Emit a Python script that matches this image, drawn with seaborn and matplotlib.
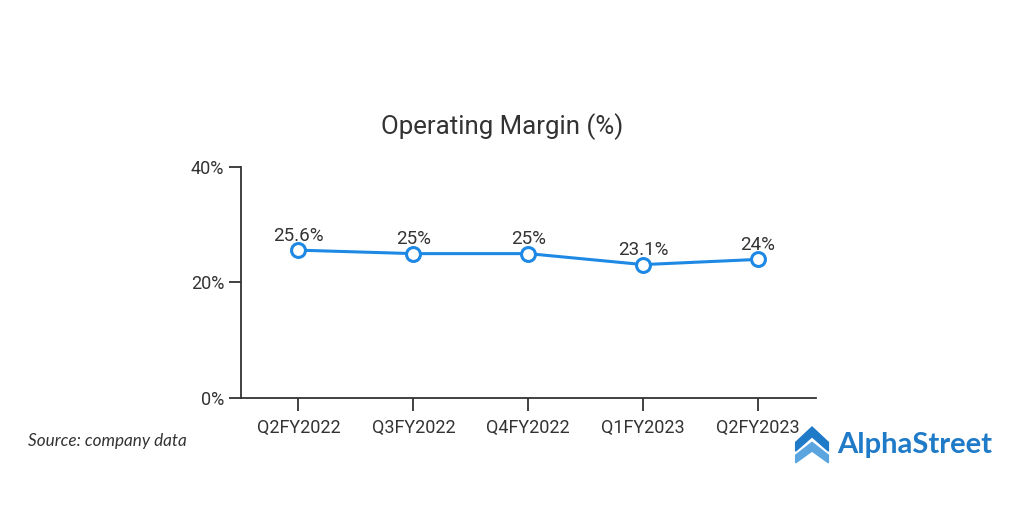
import matplotlib
matplotlib.use("Agg")
import matplotlib.pyplot as plt
import seaborn as sns
import pandas as pd
from matplotlib.patches import Polygon

# Data
quarters = ["Q2FY2022", "Q3FY2022", "Q4FY2022", "Q1FY2023", "Q2FY2023"]
margin = [25.6, 25, 25, 23.1, 24]
labels = ["25.6%", "25%", "25%", "23.1%", "24%"]
yticks = [0, 20, 40]

df = pd.DataFrame({"quarter": quarters, "margin": margin})

sns.set_style("white")
plt.rcParams["font.family"] = ["Roboto", "DejaVu Sans"]

fig = plt.figure(figsize=(10.24, 5.12), dpi=100)
ax = fig.add_axes([0.2354, 0.2227, 0.5610, 0.4511])

line_color = "#1e88e5"
sns.lineplot(data=df, x="quarter", y="margin", ax=ax, color=line_color,
             linewidth=2.2, marker="o", markersize=10,
             markerfacecolor="white", markeredgecolor=line_color,
             markeredgewidth=2.2, sort=False)

for i, (v, lab) in enumerate(zip(margin, labels)):
    ax.annotate(lab, (i, v), xytext=(0, 4), textcoords="offset points",
                ha="center", va="bottom", fontsize=13.5, color="#333333")

ax.set_xlim(-0.5, len(quarters) - 0.5)
ax.set_ylim(0, 40)
ax.set_yticks(yticks)
ax.set_yticklabels([f"{t}%" for t in yticks])
ax.set_xlabel("")
ax.set_ylabel("")
sns.despine(ax=ax)
for s in ["left", "bottom"]:
    ax.spines[s].set_color("#333333")
    ax.spines[s].set_linewidth(1.3)
ax.tick_params(axis="both", left=True, bottom=True, direction="out",
               length=9, width=1.3, color="#333333",
               labelsize=13, labelcolor="#333333")
ax.tick_params(axis="x", pad=6)
ax.tick_params(axis="y", pad=3)

fig.text(0.490, 0.752, "Operating Margin (%)", ha="center", va="center",
         fontsize=18.6, color="#333333")

fig.text(0.027, 0.138, "Source: company data", ha="left", va="center",
         fontsize=12.3, style="italic", color="#333333",
         family=["Lato", "DejaVu Sans"])

# logo
logo_blue = "#1f7ac8"
fig.text(0.818, 0.131, "AlphaStreet", ha="left", va="center", fontsize=21,
         fontweight="bold", color=logo_blue, family=["Lato", "DejaVu Sans"])
cx, cy, w = 0.793, 0.131, 0.016
top = Polygon([[cx - w, cy + 0.005], [cx, cy + 0.035], [cx + w, cy + 0.005],
               [cx + w, cy - 0.012], [cx, cy + 0.016], [cx - w, cy - 0.012]],
              closed=True, transform=fig.transFigure, color=logo_blue)
bot = Polygon([[cx - w, cy - 0.020], [cx, cy + 0.005], [cx + w, cy - 0.020],
               [cx + w, cy - 0.035], [cx, cy - 0.012], [cx - w, cy - 0.035]],
              closed=True, transform=fig.transFigure, color="#5aa5e0")
fig.patches.extend([top, bot])

fig.savefig("out.png", dpi=100)
